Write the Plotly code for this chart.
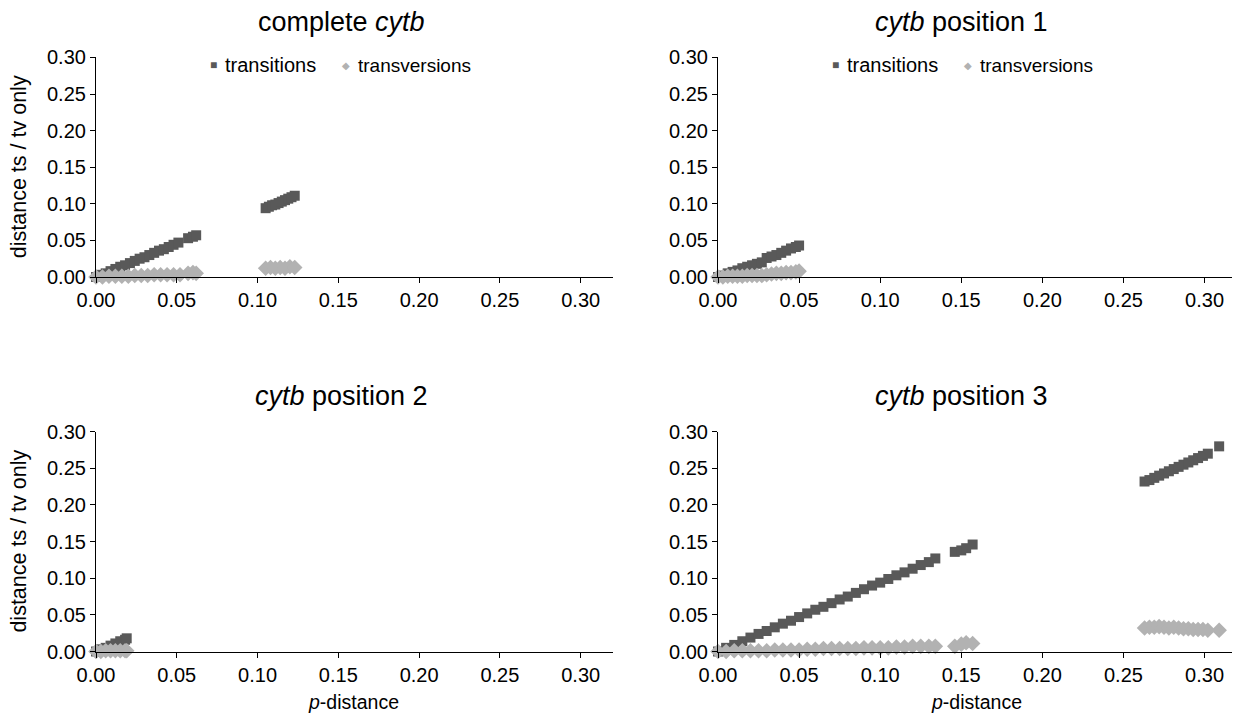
import plotly.graph_objects as go

# ---------------- data ----------------
# complete cytb
cc_ts_p = [0.000, 0.003, 0.006, 0.009, 0.012, 0.015, 0.018, 0.021, 0.024, 0.027, 0.030,
           0.033, 0.036, 0.039, 0.042, 0.045, 0.048, 0.051, 0.057, 0.060, 0.062,
           0.105, 0.107, 0.109, 0.111, 0.113, 0.115, 0.117, 0.119, 0.121, 0.123]
cc_ts_d = [0.000, 0.003, 0.005, 0.008, 0.011, 0.014, 0.016, 0.019, 0.022, 0.025, 0.027,
           0.030, 0.033, 0.036, 0.038, 0.041, 0.044, 0.047, 0.053, 0.055, 0.057,
           0.094, 0.096, 0.098, 0.099, 0.101, 0.103, 0.105, 0.107, 0.109, 0.111]
cc_tv_p = [0.000, 0.004, 0.008, 0.012, 0.016, 0.020, 0.024, 0.028, 0.032, 0.036, 0.040,
           0.044, 0.048, 0.052, 0.057, 0.060, 0.062,
           0.105, 0.108, 0.111, 0.114, 0.117, 0.120, 0.123]
cc_tv_d = [0.000, 0.000, 0.001, 0.001, 0.001, 0.001, 0.002, 0.002, 0.002, 0.003, 0.003,
           0.003, 0.003, 0.003, 0.005, 0.006, 0.005,
           0.012, 0.013, 0.012, 0.013, 0.012, 0.014, 0.013]

# cytb position 1
p1_ts_p = [0.000, 0.003, 0.006, 0.009, 0.012, 0.015, 0.018, 0.021, 0.024, 0.027,
           0.030, 0.033, 0.036, 0.039, 0.042, 0.045, 0.048, 0.050]
p1_ts_d = [0.000, 0.002, 0.005, 0.007, 0.009, 0.012, 0.014, 0.016, 0.018, 0.020,
           0.026, 0.028, 0.030, 0.033, 0.036, 0.039, 0.041, 0.043]
p1_tv_p = [0.000, 0.003, 0.006, 0.009, 0.012, 0.015, 0.018, 0.021, 0.024, 0.027,
           0.030, 0.033, 0.036, 0.039, 0.042, 0.045, 0.048, 0.050]
p1_tv_d = [0.000, 0.000, 0.001, 0.001, 0.001, 0.001, 0.002, 0.002, 0.002, 0.002,
           0.003, 0.004, 0.005, 0.005, 0.006, 0.006, 0.007, 0.008]

# cytb position 2
p2_ts_p = [0.000, 0.003, 0.006, 0.009, 0.012, 0.015, 0.018, 0.019]
p2_ts_d = [0.000, 0.003, 0.005, 0.008, 0.011, 0.014, 0.016, 0.018]
p2_tv_p = [0.000, 0.003, 0.006, 0.009, 0.012, 0.015, 0.018, 0.019]
p2_tv_d = [0.000, 0.000, 0.001, 0.001, 0.001, 0.001, 0.001, 0.001]

# cytb position 3
p3_ts_p = [0.000, 0.005, 0.010, 0.015, 0.020, 0.025, 0.030, 0.035, 0.040, 0.045,
           0.050, 0.055, 0.060, 0.065, 0.070, 0.075, 0.080, 0.085, 0.090, 0.095,
           0.100, 0.105, 0.110, 0.115, 0.120, 0.125, 0.130, 0.134,
           0.146, 0.150, 0.153, 0.157,
           0.263, 0.266, 0.269, 0.272, 0.275, 0.278, 0.281, 0.284, 0.287, 0.290,
           0.293, 0.296, 0.299, 0.302, 0.309]
p3_ts_d = [0.000, 0.005, 0.009, 0.014, 0.019, 0.024, 0.028, 0.033, 0.038, 0.042,
           0.047, 0.052, 0.057, 0.061, 0.066, 0.071, 0.075, 0.080, 0.085, 0.090,
           0.094, 0.099, 0.104, 0.108, 0.113, 0.118, 0.122, 0.127,
           0.136, 0.138, 0.141, 0.146,
           0.232, 0.234, 0.237, 0.240, 0.243, 0.246, 0.249, 0.252, 0.255, 0.258,
           0.261, 0.264, 0.267, 0.270, 0.280]
p3_tv_p = [0.000, 0.005, 0.010, 0.015, 0.020, 0.025, 0.030, 0.035, 0.040, 0.045,
           0.050, 0.055, 0.060, 0.065, 0.070, 0.075, 0.080, 0.085, 0.090, 0.095,
           0.100, 0.105, 0.110, 0.115, 0.120, 0.125, 0.130, 0.134,
           0.146, 0.150, 0.153, 0.157,
           0.263, 0.266, 0.269, 0.272, 0.275, 0.278, 0.281, 0.284, 0.287, 0.290,
           0.293, 0.296, 0.299, 0.302, 0.309]
p3_tv_d = [0.000, 0.000, 0.001, 0.001, 0.001, 0.001, 0.001, 0.002, 0.002, 0.002,
           0.002, 0.003, 0.003, 0.004, 0.004, 0.004, 0.004, 0.004, 0.005, 0.005,
           0.005, 0.005, 0.006, 0.006, 0.007, 0.007, 0.007, 0.007,
           0.007, 0.010, 0.012, 0.011,
           0.032, 0.033, 0.033, 0.034, 0.033, 0.032, 0.033, 0.032, 0.031, 0.031,
           0.030, 0.030, 0.030, 0.029, 0.029]

panel_titles = ["complete <i>cytb</i>", "<i>cytb</i> position 1",
                "<i>cytb</i> position 2", "<i>cytb</i> position 3"]
series_names = ["transitions", "transversions"]
x_ticks = [0.00, 0.05, 0.10, 0.15, 0.20, 0.25, 0.30]
y_ticks = [0.00, 0.05, 0.10, 0.15, 0.20, 0.25, 0.30]

# ---------------- styling ----------------
W, H = 1240, 718
OFF = 8  # page body margin in the browser
FONT = "Liberation Sans, Arial, sans-serif"
TS_COLOR = "#595959"
TV_COLOR = "#b2b2b2"

def px(x):
    return (x - OFF) / W

def py(y):
    return 1 - (y - OFF) / H

# plot-area pixel boxes in screen pixels: (left, right, top(0.30), bottom(0.00))
boxes = [(96, 613, 57.4, 277), (718, 1237, 57.4, 277),
         (96, 613, 431.7, 651.5), (718, 1237, 431.7, 651.5)]

panels = [(cc_ts_p, cc_ts_d, cc_tv_p, cc_tv_d),
          (p1_ts_p, p1_ts_d, p1_tv_p, p1_tv_d),
          (p2_ts_p, p2_ts_d, p2_tv_p, p2_tv_d),
          (p3_ts_p, p3_ts_d, p3_tv_p, p3_tv_d)]

fig = go.Figure()
layout = dict(template="none", width=W, height=H,
              margin=dict(l=0, r=0, t=0, b=0, autoexpand=False),
              paper_bgcolor="white", plot_bgcolor="white",
              showlegend=False, font=dict(family=FONT, size=20, color="#000"))
annotations = []

for i, (box, data) in enumerate(zip(boxes, panels)):
    l, r, t, b = box
    xa = "x" if i == 0 else f"x{i+1}"
    ya = "y" if i == 0 else f"y{i+1}"
    xkey = "xaxis" if i == 0 else f"xaxis{i+1}"
    ykey = "yaxis" if i == 0 else f"yaxis{i+1}"
    tsp, tsd, tvp, tvd = data
    fig.add_trace(go.Scatter(x=tsp, y=tsd, mode="markers", name=series_names[0],
                             xaxis=xa, yaxis=ya, cliponaxis=False,
                             marker=dict(symbol="square", size=10, color=TS_COLOR,
                                         line=dict(width=0))))
    fig.add_trace(go.Scatter(x=tvp, y=tvd, mode="markers", name=series_names[1],
                             xaxis=xa, yaxis=ya, cliponaxis=False,
                             marker=dict(symbol="diamond", size=12, color=TV_COLOR,
                                         line=dict(width=0))))
    layout[xkey] = dict(domain=[px(l), min(px(r), 1.0)], range=[0, 0.32], anchor=ya,
                        automargin=False,
                        tickvals=x_ticks, ticktext=[f"{v:.2f}" for v in x_ticks],
                        showgrid=False, zeroline=False, showline=True,
                        linecolor="#000", linewidth=1.2, ticks="outside",
                        ticklen=5, tickcolor="#000", tickwidth=1.2,
                        tickfont=dict(size=20))
    layout[ykey] = dict(domain=[py(b), py(t)], range=[0, 0.30], anchor=xa,
                        automargin=False,
                        tickvals=y_ticks, ticktext=[f"{v:.2f}" for v in y_ticks],
                        showgrid=False, zeroline=False, showline=True,
                        linecolor="#000", linewidth=1.2, ticks="outside",
                        ticklen=5, tickcolor="#000", tickwidth=1.2,
                        tickfont=dict(size=20))
    # panel title
    cx = 341 if i % 2 == 0 else 961
    ty = 22 if i < 2 else 396
    annotations.append(dict(text=panel_titles[i], x=px(cx), y=py(ty), xref="paper",
                            yref="paper", showarrow=False, xanchor="center",
                            yanchor="middle", font=dict(size=27)))
    # y title (left column only)
    if i % 2 == 0:
        annotations.append(dict(text="distance ts / tv only", x=px(19), y=py((t + b) / 2),
                                xref="paper", yref="paper", showarrow=False,
                                textangle=-90, xanchor="center", yanchor="middle",
                                font=dict(size=21.5)))
    # x title (bottom row only)
    if i >= 2:
        annotations.append(dict(text="<i>p</i>-distance", x=px((l + r) / 2 - 1), y=py(702),
                                xref="paper", yref="paper", showarrow=False,
                                xanchor="center", yanchor="middle", font=dict(size=19.5)))
    # legend (top row only)
    if i < 2:
        off = 0 if i == 0 else 622
        ly = py(65)
        annotations += [
            dict(text="■", x=px(213 + off), y=ly, xref="paper", yref="paper",
                 showarrow=False, xanchor="center", yanchor="middle",
                 font=dict(size=12, color=TS_COLOR)),
            dict(text=series_names[0], x=px(223 + off), y=ly, xref="paper", yref="paper",
                 showarrow=False, xanchor="left", yanchor="middle", font=dict(size=20)),
            dict(text="◆", x=px(346 + off), y=ly, xref="paper", yref="paper",
                 showarrow=False, xanchor="center", yanchor="middle",
                 font=dict(size=10, color=TV_COLOR)),
            dict(text=series_names[1], x=px(356 + off), y=ly, xref="paper", yref="paper",
                 showarrow=False, xanchor="left", yanchor="middle", font=dict(size=19)),
        ]

layout["annotations"] = annotations
fig.update_layout(**layout)
fig.write_html("out.html")
